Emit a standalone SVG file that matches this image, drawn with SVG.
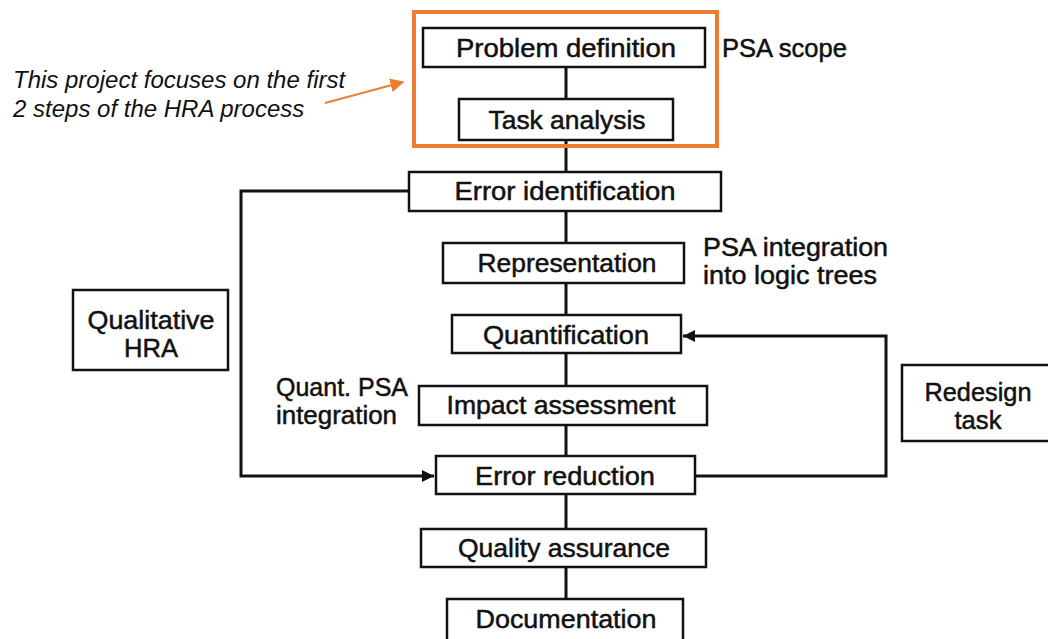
<svg xmlns="http://www.w3.org/2000/svg" width="1048" height="639" viewBox="0 0 1048 639">
<defs>
<style>
.box{fill:#fff;stroke:#111;stroke-width:2.5}
.bt{font-family:"Liberation Sans",Arial,sans-serif;font-size:26px;fill:#111;stroke:#111;stroke-width:0.5;text-anchor:middle}
.lt{font-family:"Liberation Sans",Arial,sans-serif;font-size:26px;fill:#111;stroke:#111;stroke-width:0.5}
.ann{font-family:"Liberation Sans",Arial,sans-serif;font-size:24px;font-style:italic;fill:#111}
.ln{fill:none;stroke:#111;stroke-width:3}
</style>
<marker id="ah" viewBox="0 0 10 10" refX="10" refY="5" markerWidth="4" markerHeight="4" orient="auto" markerUnits="strokeWidth">
<path d="M0,0 L10,5 L0,10 z" fill="#111"/>
</marker>
<marker id="oh" viewBox="0 0 10 10" refX="9" refY="5" markerWidth="7" markerHeight="7" orient="auto" markerUnits="strokeWidth">
<path d="M0,0 L10,5 L0,10 z" fill="#ED7D31"/>
</marker>
</defs>
<rect width="1048" height="639" fill="#fff"/>
<g id="connectors">
<line class="ln" x1="566" y1="67" x2="566" y2="600"/>
<polyline class="ln" points="409,191 241,191 241,476 434,476" marker-end="url(#ah)"/>
<polyline class="ln" points="695,476 886,476 886,336 683,336" marker-end="url(#ah)"/>
<line x1="325" y1="103" x2="403" y2="82" stroke="#ED7D31" stroke-width="2" marker-end="url(#oh)"/>
</g>
<g id="n-problem"><rect class="box" x="423" y="28" width="282" height="39"/><text class="bt" x="566" y="57" textLength="220" lengthAdjust="spacingAndGlyphs">Problem definition</text></g>
<g id="n-task"><rect class="box" x="459" y="99" width="214" height="41"/><text class="bt" x="567" y="129" textLength="157" lengthAdjust="spacingAndGlyphs">Task analysis</text></g>
<g id="n-errid"><rect class="box" x="409" y="172" width="312" height="39"/><text class="bt" x="565" y="200" textLength="221" lengthAdjust="spacingAndGlyphs">Error identification</text></g>
<g id="n-repr"><rect class="box" x="443" y="243" width="241" height="40"/><text class="bt" x="567" y="272" textLength="179" lengthAdjust="spacingAndGlyphs">Representation</text></g>
<g id="n-quant"><rect class="box" x="452" y="315" width="229" height="38"/><text class="bt" x="566" y="344" textLength="166" lengthAdjust="spacingAndGlyphs">Quantification</text></g>
<g id="n-impact"><rect class="box" x="419" y="386" width="288" height="39"/><text class="bt" x="561" y="414" textLength="229" lengthAdjust="spacingAndGlyphs">Impact assessment</text></g>
<g id="n-errred"><rect class="box" x="436" y="456" width="259" height="38"/><text class="bt" x="565" y="485" textLength="180" lengthAdjust="spacingAndGlyphs">Error reduction</text></g>
<g id="n-qa"><rect class="box" x="421" y="529" width="285" height="38"/><text class="bt" x="564" y="557" textLength="212" lengthAdjust="spacingAndGlyphs">Quality assurance</text></g>
<g id="n-doc"><rect class="box" x="447" y="599" width="236" height="45"/><text class="bt" x="566" y="628" textLength="181" lengthAdjust="spacingAndGlyphs">Documentation</text></g>
<g id="n-qual"><rect class="box" x="73" y="290" width="155" height="80"/><text class="bt" x="151" y="329" textLength="127" lengthAdjust="spacingAndGlyphs">Qualitative</text><text class="bt" x="151" y="357" textLength="54" lengthAdjust="spacingAndGlyphs">HRA</text></g>
<g id="n-redesign"><rect class="box" x="902" y="365" width="150" height="76"/><text class="bt" x="978" y="401" textLength="107" lengthAdjust="spacingAndGlyphs">Redesign</text><text class="bt" x="978" y="429" textLength="47" lengthAdjust="spacingAndGlyphs">task</text></g>
<g id="labels">
<text class="lt" x="722" y="57" textLength="125" lengthAdjust="spacingAndGlyphs">PSA scope</text>
<text class="lt" x="703" y="256" textLength="185" lengthAdjust="spacingAndGlyphs">PSA integration</text>
<text class="lt" x="703" y="284" textLength="174" lengthAdjust="spacingAndGlyphs">into logic trees</text>
<text class="lt" x="276" y="396" textLength="132" lengthAdjust="spacingAndGlyphs">Quant. PSA</text>
<text class="lt" x="276" y="424" textLength="121" lengthAdjust="spacingAndGlyphs">integration</text>
</g>
<g id="highlight">
<rect x="414" y="12" width="303" height="134" fill="none" stroke="#ED7D31" stroke-width="4"/>
<text class="ann" x="13" y="88">This project focuses on the first</text>
<text class="ann" x="13" y="117">2 steps of the HRA process</text>
</g>
</svg>
